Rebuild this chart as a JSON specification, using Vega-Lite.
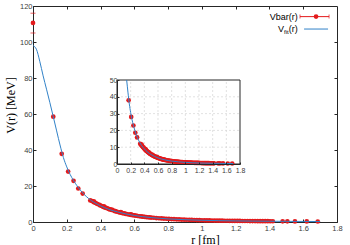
{
  "$schema": "https://vega.github.io/schema/vega-lite/v6.json",
  "width": 304,
  "height": 216,
  "autosize": "none",
  "padding": {"left": 33, "top": 6, "right": 13, "bottom": 23},
  "background": "white",
  "config": {
    "view": {"stroke": "#262626", "strokeWidth": 1},
    "axis": {
      "labelFont": "Liberation Sans", "labelColor": "#404040", "labelFontSize": 7.5,
      "labelOverlap": false, "labelFlush": false, "labelBound": false,
      "domainColor": "#262626", "tickColor": "#262626", "grid": false,
      "titleFont": "Liberation Serif", "titleFontWeight": "normal", "titleColor": "#000", "titleFontSize": 12
    }
  },
  "datasets": {
    "pts": [
      {"r":0,"V":110.6},{"r":0.12,"V":58.5},{"r":0.17,"V":37.9},{"r":0.208,"V":28.0},{"r":0.24,"V":22.9},{"r":0.268,"V":18.6},{"r":0.294,"V":15.8},
      {"r":0.339,"V":12.0},{"r":0.35,"V":11.6},{"r":0.36,"V":11.0},{"r":0.36,"V":11.5},{"r":0.37,"V":10.6},{"r":0.379,"V":10.1},{"r":0.39,"V":9.7},{"r":0.398,"V":9.2},
      {"r":0.407,"V":8.9},{"r":0.416,"V":8.4},{"r":0.42,"V":8.7},{"r":0.425,"V":8.1},{"r":0.433,"V":7.8},{"r":0.441,"V":7.6},{"r":0.449,"V":7.2},{"r":0.457,"V":7.0},
      {"r":0.465,"V":6.7},{"r":0.47,"V":6.8},{"r":0.48,"V":6.2},{"r":0.487,"V":6.0},{"r":0.495,"V":5.8},{"r":0.509,"V":5.4},{"r":0.52,"V":5.2},{"r":0.52,"V":5.5},
      {"r":0.53,"V":4.9},{"r":0.54,"V":4.75},{"r":0.55,"V":4.5},{"r":0.56,"V":4.3},{"r":0.57,"V":4.15},{"r":0.58,"V":3.95},{"r":0.58,"V":4.2},{"r":0.59,"V":3.8},
      {"r":0.6,"V":3.65},{"r":0.61,"V":3.5},{"r":0.62,"V":3.35},{"r":0.63,"V":3.2},{"r":0.64,"V":3.1},{"r":0.65,"V":2.98},{"r":0.66,"V":2.85},{"r":0.67,"V":2.75},
      {"r":0.68,"V":2.65},{"r":0.69,"V":2.55},{"r":0.7,"V":2.45},{"r":0.715,"V":2.35},{"r":0.73,"V":2.2},{"r":0.745,"V":2.1},{"r":0.76,"V":2.0},{"r":0.775,"V":1.9},
      {"r":0.79,"V":1.8},{"r":0.805,"V":1.72},{"r":0.82,"V":1.63},{"r":0.835,"V":1.56},{"r":0.85,"V":1.49},{"r":0.865,"V":1.43},{"r":0.88,"V":1.37},{"r":0.895,"V":1.31},
      {"r":0.91,"V":1.25},{"r":0.925,"V":1.2},{"r":0.94,"V":1.15},{"r":0.955,"V":1.1},{"r":0.97,"V":1.05},{"r":0.985,"V":1.01},{"r":1.0,"V":0.97},{"r":1.015,"V":0.93},
      {"r":1.03,"V":0.9},{"r":1.045,"V":0.87},{"r":1.06,"V":0.84},{"r":1.075,"V":0.81},{"r":1.09,"V":0.78},{"r":1.105,"V":0.75},{"r":1.12,"V":0.73},{"r":1.135,"V":0.71},
      {"r":1.15,"V":0.68},{"r":1.165,"V":0.66},{"r":1.18,"V":0.64},{"r":1.195,"V":0.62},{"r":1.21,"V":0.6},{"r":1.225,"V":0.59},{"r":1.24,"V":0.57},{"r":1.255,"V":0.55},
      {"r":1.27,"V":0.54},{"r":1.285,"V":0.52},{"r":1.3,"V":0.51},{"r":1.315,"V":0.5},{"r":1.33,"V":0.48},{"r":1.345,"V":0.47},{"r":1.36,"V":0.46},{"r":1.375,"V":0.45},
      {"r":1.39,"V":0.44},{"r":1.405,"V":0.43},{"r":1.42,"V":0.42},{"r":1.478,"V":0.38},{"r":1.506,"V":0.36},{"r":1.551,"V":0.34},{"r":1.621,"V":0.31},{"r":1.686,"V":0.28}
    ],
    "fit": [
      {"r":0,"V":98.0},{"r":0.02,"V":96.0},{"r":0.04,"V":89.3},{"r":0.06,"V":81.2},{"r":0.08,"V":73.8},{"r":0.1,"V":66.3},{"r":0.12,"V":58.5},{"r":0.14,"V":50.6},
      {"r":0.1415,"V":50.0},{"r":0.16,"V":42.8},{"r":0.18,"V":35.8},{"r":0.2,"V":30.6},{"r":0.22,"V":26.4},{"r":0.24,"V":23.0},{"r":0.26,"V":20.2},{"r":0.28,"V":17.7},
      {"r":0.3,"V":15.6},{"r":0.33,"V":13.0},{"r":0.36,"V":11.0},{"r":0.4,"V":9.0},{"r":0.45,"V":7.0},{"r":0.5,"V":5.6},{"r":0.55,"V":4.5},{"r":0.6,"V":3.62},
      {"r":0.65,"V":2.96},{"r":0.7,"V":2.45},{"r":0.75,"V":2.05},{"r":0.8,"V":1.72},{"r":0.9,"V":1.27},{"r":1.0,"V":0.96},{"r":1.1,"V":0.75},{"r":1.2,"V":0.6},
      {"r":1.3,"V":0.5},{"r":1.4,"V":0.42},{"r":1.5,"V":0.36},{"r":1.6,"V":0.31},{"r":1.7,"V":0.27}
    ],
    "err": [{"r":0,"V":105},{"r":0,"V":116}],
    "gx": [{"t":0.2},{"t":0.4},{"t":0.6},{"t":0.8},{"t":1.0},{"t":1.2},{"t":1.4},{"t":1.6}],
    "gy": [{"t":10},{"t":20},{"t":30},{"t":40}]
  },
  "layer": [
    {
      "data": {"name": "pts"},
      "mark": {"type": "circle", "size": 22, "color": "#e31a1c", "opacity": 1},
      "encoding": {
        "x": {"field": "r", "type": "quantitative",
          "scale": {"domain": [0, 1.8], "nice": false, "zero": false},
          "axis": {"orient": "bottom", "values": [0,0.2,0.4,0.6,0.8,1,1.2,1.4,1.6,1.8], "format": "~g",
            "tickSize": -3, "labelPadding": 5, "title": "r [fm]", "titleX": 172, "titleY": 17, "titleBaseline": "middle", "titleAnchor": null}},
        "y": {"field": "V", "type": "quantitative",
          "scale": {"domain": [0, 120], "nice": false, "zero": false},
          "axis": {"orient": "left", "values": [0,20,40,60,80,100,120], "format": "d",
            "tickSize": -3, "labelPadding": 4, "title": "V(r) [MeV]", "titleX": -23, "titleY": 99, "titleBaseline": "middle", "titleAngle": -90}}
      }
    },
    {
      "data": {"name": "err"},
      "mark": {"type": "tick", "orient": "horizontal", "size": 5, "thickness": 1, "color": "#e31a1c"},
      "encoding": {
        "x": {"field": "r", "type": "quantitative", "scale": {"domain": [0, 1.8], "nice": false, "zero": false}, "axis": null},
        "y": {"field": "V", "type": "quantitative", "scale": {"domain": [0, 120], "nice": false, "zero": false}, "axis": null}
      }
    },
    {
      "data": {"name": "fit"},
      "mark": {"type": "line", "color": "#3182c8", "strokeWidth": 1, "interpolate": "monotone"},
      "encoding": {
        "x": {"field": "r", "type": "quantitative", "scale": {"domain": [0, 1.8], "nice": false, "zero": false},
          "axis": {"orient": "top", "values": [0.2,0.4,0.6,0.8,1,1.2,1.4,1.6], "labels": false, "domain": false, "tickSize": -3, "title": null}},
        "y": {"field": "V", "type": "quantitative", "scale": {"domain": [0, 120], "nice": false, "zero": false},
          "axis": {"orient": "right", "values": [20,40,60,80,100], "labels": false, "domain": false, "tickSize": -3, "title": null}}
      }
    },
    {
      "data": {"values": [{}]},
      "mark": {"type": "rule", "color": "#e31a1c", "strokeWidth": 1},
      "encoding": {
        "x": {"datum": 1.581, "type": "quantitative", "scale": {"domain": [0, 1.8], "nice": false, "zero": false}, "axis": null},
        "x2": {"datum": 1.753},
        "y": {"datum": 114.1, "type": "quantitative", "scale": {"domain": [0, 120], "nice": false, "zero": false}, "axis": null}
      }
    },
    {
      "data": {"values": [{}]},
      "mark": {"type": "tick", "orient": "vertical", "size": 4, "thickness": 1, "color": "#e31a1c"},
      "encoding": {
        "x": {"datum": 1.581, "type": "quantitative", "scale": {"domain": [0, 1.8], "nice": false, "zero": false}, "axis": null},
        "y": {"datum": 114.1, "type": "quantitative", "scale": {"domain": [0, 120], "nice": false, "zero": false}, "axis": null}
      }
    },
    {
      "data": {"values": [{}]},
      "mark": {"type": "tick", "orient": "vertical", "size": 4, "thickness": 1, "color": "#e31a1c"},
      "encoding": {
        "x": {"datum": 1.753, "type": "quantitative", "scale": {"domain": [0, 1.8], "nice": false, "zero": false}, "axis": null},
        "y": {"datum": 114.1, "type": "quantitative", "scale": {"domain": [0, 120], "nice": false, "zero": false}, "axis": null}
      }
    },
    {
      "data": {"values": [{}]},
      "mark": {"type": "circle", "size": 22, "color": "#e31a1c", "opacity": 1},
      "encoding": {
        "x": {"datum": 1.676, "type": "quantitative", "scale": {"domain": [0, 1.8], "nice": false, "zero": false}, "axis": null},
        "y": {"datum": 114.1, "type": "quantitative", "scale": {"domain": [0, 120], "nice": false, "zero": false}, "axis": null}
      }
    },
    {
      "data": {"values": [{}]},
      "mark": {"type": "rule", "color": "#3182c8", "strokeWidth": 1},
      "encoding": {
        "x": {"datum": 1.605, "type": "quantitative", "scale": {"domain": [0, 1.8], "nice": false, "zero": false}, "axis": null},
        "x2": {"datum": 1.747},
        "y": {"datum": 107.2, "type": "quantitative", "scale": {"domain": [0, 120], "nice": false, "zero": false}, "axis": null}
      }
    },
    {
      "data": {"values": [{}]},
      "mark": {"type": "text", "text": "Vbar(r)", "align": "right", "baseline": "middle", "font": "Liberation Sans", "fontSize": 9, "color": "#000"},
      "encoding": {
        "x": {"datum": 1.567, "type": "quantitative", "scale": {"domain": [0, 1.8], "nice": false, "zero": false}, "axis": null},
        "y": {"datum": 114.1, "type": "quantitative", "scale": {"domain": [0, 120], "nice": false, "zero": false}, "axis": null}
      }
    },
    {
      "data": {"values": [{}]},
      "mark": {"type": "text", "text": "(r)", "align": "right", "baseline": "middle", "font": "Liberation Sans", "fontSize": 9, "color": "#000"},
      "encoding": {
        "x": {"datum": 1.567, "type": "quantitative", "scale": {"domain": [0, 1.8], "nice": false, "zero": false}, "axis": null},
        "y": {"datum": 107.2, "type": "quantitative", "scale": {"domain": [0, 120], "nice": false, "zero": false}, "axis": null}
      }
    },
    {
      "data": {"values": [{}]},
      "mark": {"type": "text", "text": "fit", "align": "right", "baseline": "middle", "font": "Liberation Sans", "fontSize": 6, "color": "#000", "dx": -9, "dy": 2.5},
      "encoding": {
        "x": {"datum": 1.567, "type": "quantitative", "scale": {"domain": [0, 1.8], "nice": false, "zero": false}, "axis": null},
        "y": {"datum": 107.2, "type": "quantitative", "scale": {"domain": [0, 120], "nice": false, "zero": false}, "axis": null}
      }
    },
    {
      "data": {"values": [{}]},
      "mark": {"type": "text", "text": "V", "align": "right", "baseline": "middle", "font": "Liberation Sans", "fontSize": 9, "color": "#000", "dx": -13.7},
      "encoding": {
        "x": {"datum": 1.567, "type": "quantitative", "scale": {"domain": [0, 1.8], "nice": false, "zero": false}, "axis": null},
        "y": {"datum": 107.2, "type": "quantitative", "scale": {"domain": [0, 120], "nice": false, "zero": false}, "axis": null}
      }
    },
    {
      "data": {"values": [{}]},
      "mark": {"type": "rect", "fill": "white", "stroke": "#262626", "strokeWidth": 1},
      "encoding": {
        "x": {"datum": 0, "type": "quantitative", "scale": {"domain": [0, 1.8], "range": [84, 207], "nice": false, "zero": false}, "axis": null},
        "x2": {"datum": 1.8},
        "y": {"datum": 0, "type": "quantitative", "scale": {"domain": [0, 50], "range": [158, 74], "nice": false, "zero": false}, "axis": null},
        "y2": {"datum": 50}
      }
    },
    {
      "data": {"name": "gx"},
      "mark": {"type": "rule", "color": "#d6d6d6", "strokeWidth": 0.7, "strokeDash": [2, 2]},
      "encoding": {
        "x": {"field": "t", "type": "quantitative", "scale": {"domain": [0, 1.8], "range": [84, 207], "nice": false, "zero": false}, "axis": null},
        "y": {"datum": 0, "type": "quantitative", "scale": {"domain": [0, 50], "range": [158, 74], "nice": false, "zero": false}, "axis": null},
        "y2": {"datum": 50}
      }
    },
    {
      "data": {"name": "gy"},
      "mark": {"type": "rule", "color": "#d6d6d6", "strokeWidth": 0.7, "strokeDash": [2, 2]},
      "encoding": {
        "y": {"field": "t", "type": "quantitative", "scale": {"domain": [0, 50], "range": [158, 74], "nice": false, "zero": false}, "axis": null},
        "x": {"datum": 0, "type": "quantitative", "scale": {"domain": [0, 1.8], "range": [84, 207], "nice": false, "zero": false}, "axis": null},
        "x2": {"datum": 1.8}
      }
    },
    {
      "data": {"name": "pts"},
      "transform": [{"filter": "datum.V <= 50"}],
      "mark": {"type": "circle", "size": 22, "color": "#e31a1c", "opacity": 1},
      "encoding": {
        "x": {"field": "r", "type": "quantitative",
          "scale": {"domain": [0, 1.8], "range": [84, 207], "nice": false, "zero": false},
          "axis": {"orient": "bottom", "offset": -58, "values": [0,0.2,0.4,0.6,0.8,1,1.2,1.4,1.6,1.8], "format": "~g",
            "tickSize": -2, "labelPadding": 4, "labelFontSize": 7, "title": null, "zindex": 1}},
        "y": {"field": "V", "type": "quantitative",
          "scale": {"domain": [0, 50], "range": [158, 74], "nice": false, "zero": false},
          "axis": {"orient": "left", "offset": -84, "values": [0,10,20,30,40,50], "format": "d",
            "tickSize": -2, "labelPadding": 2, "labelFontSize": 7, "title": null, "zindex": 1}}
      }
    },
    {
      "data": {"name": "fit"},
      "transform": [{"filter": "datum.V <= 50"}],
      "mark": {"type": "line", "color": "#3182c8", "strokeWidth": 1, "interpolate": "monotone"},
      "encoding": {
        "x": {"field": "r", "type": "quantitative", "scale": {"domain": [0, 1.8], "range": [84, 207], "nice": false, "zero": false}, "axis": null},
        "y": {"field": "V", "type": "quantitative", "scale": {"domain": [0, 50], "range": [158, 74], "nice": false, "zero": false}, "axis": null}
      }
    }
  ],
  "resolve": {"scale": {"x": "independent", "y": "independent"}, "axis": {"x": "independent", "y": "independent"}}
}
